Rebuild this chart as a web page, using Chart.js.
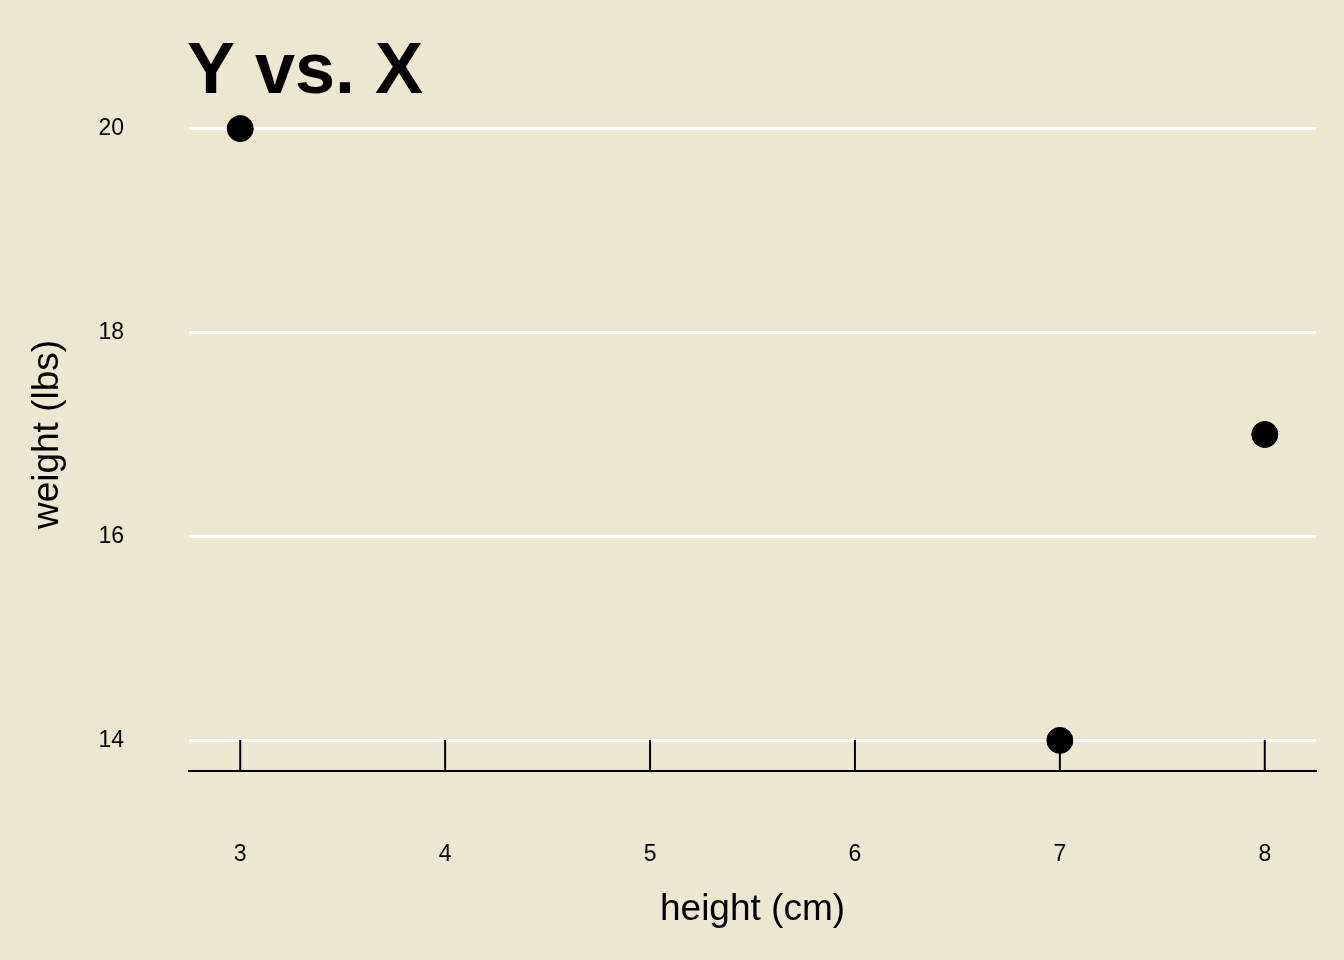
<!DOCTYPE html>
<html><head><meta charset="utf-8">
<script src="https://cdn.jsdelivr.net/npm/chart.js@4"></script>
<style>html,body{margin:0;padding:0;background:#ECE7D1}</style>
</head><body>
<canvas id="c" width="1344" height="960" style="width:1344px;height:960px"></canvas>
<script>
const xValues=[3,7,8];
const yValues=[20,14,17];
const xTicks=[3,4,5,6,7,8];
const yTicks=[14,16,18,20];
const titleText="Y vs. X";
const F="'Liberation Sans', Arial, sans-serif";
const plugin={id:'extra',
 beforeDraw(c){const x=c.ctx;x.save();x.fillStyle='#ECE7D1';x.fillRect(0,0,c.width,c.height);x.restore();},
 afterDraw(c){const ctx=c.ctx,s=c.scales.x,a=c.chartArea;ctx.save();
  ctx.strokeStyle='#000';ctx.lineWidth=2;
  xTicks.forEach(v=>{const p=s.getPixelForValue(v);ctx.beginPath();ctx.moveTo(p,a.bottom);ctx.lineTo(p,a.bottom-31);ctx.stroke();});
  ctx.fillStyle='#000';ctx.font="bold 72px "+F;ctx.textBaseline='alphabetic';ctx.textAlign='left';
  ctx.fillText(titleText,a.left-2,93);ctx.restore();}
};
new Chart(document.getElementById('c'),{type:'scatter',
 data:{datasets:[{data:xValues.map((v,i)=>({x:v,y:yValues[i]})),backgroundColor:'#000',borderColor:'#000',pointRadius:13,pointHoverRadius:13}]},
 options:{responsive:false,animation:false,devicePixelRatio:1,
  layout:{padding:{top:98,right:28,left:0,bottom:0}},
  plugins:{legend:{display:false},tooltip:{enabled:false}},
  scales:{
   x:{type:'linear',min:2.75,max:8.25,afterBuildTicks:s=>{s.ticks=xTicks.map(v=>({value:v}));},
    afterFit:s=>{s.height=189;},
    grid:{display:true,drawOnChartArea:false,drawTicks:false},
    border:{display:true,color:'#000',width:2},
    ticks:{padding:70,color:'#000',font:{family:F,size:23}},
    title:{display:true,text:'height (cm)',color:'#000',font:{family:F,size:37},padding:{top:0,bottom:28}}},
   y:{type:'linear',min:13.7,max:20.3,afterBuildTicks:s=>{s.ticks=yTicks.map(v=>({value:v}));},
    afterFit:s=>{s.width=189;},
    grid:{color:'#fff',lineWidth:3,drawTicks:false},
    border:{display:false},
    ticks:{padding:65,color:'#000',font:{family:F,size:23}},
    title:{display:true,text:'weight (lbs)',color:'#000',font:{family:F,size:37},padding:{top:26,bottom:0}}}
  }},
 plugins:[plugin]});
</script></body></html>
